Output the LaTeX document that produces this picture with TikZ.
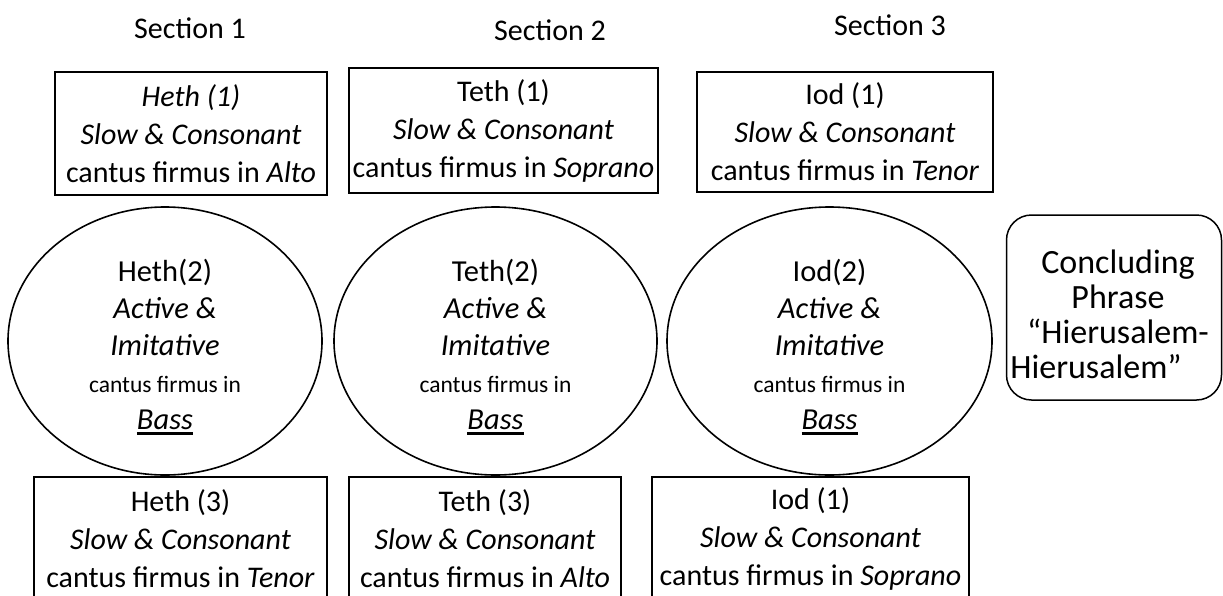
\documentclass[tikz,border=0pt]{standalone}
\usepackage{fontspec}
\setmainfont{Carlito}
\usetikzlibrary{shapes.geometric}
\newcommand\myul[1]{\setbox0\hbox{#1}\rlap{\raisebox{-5.5pt}{\rule{\wd0}{2.6pt}}}\box0}
\newcommand\smallcf{\fontsize{23.5}{37}\selectfont}
\tikzset{
  txt/.style={font=\fontsize{30}{38}\selectfont, align=center, inner sep=0pt},
  sbox/.style={draw, line width=1.5pt, rectangle, txt},
  oval/.style={draw, line width=1.6pt, ellipse, inner sep=0pt},
  ovaltxt/.style={font=\fontsize{30.5}{37}\selectfont, align=center, inner sep=0pt},
  cbox/.style={draw, line width=1.5pt, rounded corners=25pt, minimum width=215pt, minimum height=185pt, inner sep=0pt},
  lbl/.style={font=\fontsize{30}{36}\selectfont, inner sep=0pt}
}
\begin{document}
\begin{tikzpicture}[x=1pt,y=-1pt]
\useasboundingbox (0,0) rectangle (1223,595);
\clip (0,0) rectangle (1223,595);
% section labels
\node[lbl] (s1) at (190,28) {Section 1};
\node[lbl] (s2) at (550,30) {Section 2};
\node[lbl] (s3) at (890,25) {Section 3};
% top boxes
\node[sbox, minimum width=272pt, minimum height=123pt] (h1) at (191,133.5)
  {\textit{Heth (1)}\\\textit{Slow \& Consonant}\\cantus firmus in \textit{Alto}};
\node[sbox, minimum width=309pt, minimum height=125pt] (t1) at (503.5,130.5)
  {Teth (1)\\\textit{Slow \& Consonant}\\cantus firmus in \textit{Soprano}};
\node[sbox, minimum width=296pt, minimum height=120pt] (i1) at (845,132)
  {Iod (1)\\\textit{Slow \& Consonant}\\cantus firmus in \textit{Tenor}};
% ellipses
\node[oval, minimum width=314pt, minimum height=268pt] (h2) at (165,341) {};
\node[oval, minimum width=323pt, minimum height=268pt] (t2) at (495.5,341) {};
\node[oval, minimum width=325pt, minimum height=268pt] (i2) at (829.5,341) {};
\node[ovaltxt] (h2t) at (h2.center) [yshift=-6pt]
  {Heth(2)\\\textit{Active \&}\\\textit{Imitative}\\{\smallcf cantus firmus in}\\\myul{\textit{Bass}}};
\node[ovaltxt] (t2t) at (t2.center) [yshift=-6pt]
  {Teth(2)\\\textit{Active \&}\\\textit{Imitative}\\{\smallcf cantus firmus in}\\\myul{\textit{Bass}}};
\node[ovaltxt] (i2t) at (i2.center) [yshift=-6pt]
  {Iod(2)\\\textit{Active \&}\\\textit{Imitative}\\{\smallcf cantus firmus in}\\\myul{\textit{Bass}}};
% concluding phrase
\node[cbox] (cb) at (1114,307.5) {};
\node[txt, font=\fontsize{34}{35}\selectfont] (ct) at (1118,314.5)
  {Concluding\\Phrase\\“Hierusalem-\\\hspace*{-44pt}Hierusalem”};
% bottom boxes
\node[sbox, minimum width=293pt, minimum height=123pt] (h3) at (180.5,538.5)
  {Heth (3)\\\textit{Slow \& Consonant}\\cantus firmus in \textit{Tenor}};
\node[sbox, minimum width=272pt, minimum height=123pt] (t3) at (485,538.5)
  {Teth (3)\\\textit{Slow \& Consonant}\\cantus firmus in \textit{Alto}};
\node[sbox, minimum width=317pt, minimum height=123pt] (i3) at (810.5,538.5)
  {Iod (1)\\\textit{Slow \& Consonant}\\cantus firmus in \textit{Soprano}};
\end{tikzpicture}
\end{document}
